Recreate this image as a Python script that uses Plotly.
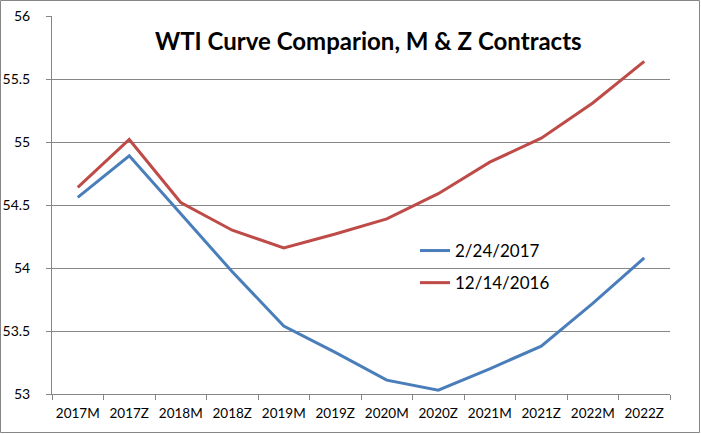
import plotly.graph_objects as go

contracts = ["2017M", "2017Z", "2018M", "2018Z", "2019M", "2019Z",
             "2020M", "2020Z", "2021M", "2021Z", "2022M", "2022Z"]
curve_feb = [54.56, 54.89, 54.43, 53.97, 53.54, 53.33,
             53.11, 53.03, 53.20, 53.38, 53.72, 54.08]
curve_dec = [54.64, 55.02, 54.52, 54.30, 54.16, 54.27,
             54.39, 54.59, 54.84, 55.03, 55.31, 55.64]

W, H = 701, 434
L, R, T, B = 52, 31, 16, 40
pw, ph = W - L - R, H - T - B
grey = "#868686"
font = "Lato, 'Open Sans', sans-serif"

fig = go.Figure()
fig.add_trace(go.Scatter(x=contracts, y=curve_feb, mode="lines", name="2/24/2017",
                         legendgroup="a", line=dict(color="#4A7EBB", width=3)))
fig.add_trace(go.Scatter(x=contracts, y=curve_dec, mode="lines", name="12/14/2016",
                         legendgroup="b", line=dict(color="#BE4B48", width=3)))

fig.update_layout(
    width=W, height=H,
    margin=dict(l=L, r=R, t=T, b=B),
    paper_bgcolor="white", plot_bgcolor="white",
    font=dict(family=font, size=13, color="black"),
    showlegend=True,
    legend=dict(x=(415 - L) / pw, y=(394 - 233) / ph, xanchor="left", yanchor="top",
                font=dict(size=17), bgcolor="rgba(0,0,0,0)",
                traceorder="grouped", tracegroupgap=7),
    annotations=[dict(text="<b>WTI Curve Comparion, M & Z Contracts</b>",
                      x=(368 - L) / pw, y=(394 - 40) / ph, xref="paper", yref="paper",
                      showarrow=False, font=dict(size=24, family=font),
                      xanchor="center", yanchor="middle")],
    shapes=[dict(type="rect", xref="paper", yref="paper",
                 x0=(0.5 - L) / pw, x1=(W - 1.5 - L) / pw,
                 y0=-(B - 1.5) / ph, y1=(H - B - 0.5) / ph,
                 line=dict(color=grey, width=1))],
)
fig.update_xaxes(type="category", range=[-0.5, 11.5], tickson="boundaries",
                 ticks="outside", ticklen=5, tickcolor=grey, showline=True,
                 linecolor=grey, linewidth=1, showgrid=False, fixedrange=True,
                 tickfont=dict(size=13.5), tickangle=0, ticklabelstandoff=7,
                 automargin=False)
fig.update_yaxes(range=[53, 56], dtick=0.5, ticks="outside", ticklen=5,
                 tickcolor=grey, showline=True, linecolor=grey, linewidth=1,
                 showgrid=True, gridcolor=grey, gridwidth=1, zeroline=False,
                 fixedrange=True, tickfont=dict(size=14), ticklabelstandoff=13,
                 automargin=False)

fig.write_html("out.html", config={"displayModeBar": False},
               post_script="document.body.style.margin='0px';")
